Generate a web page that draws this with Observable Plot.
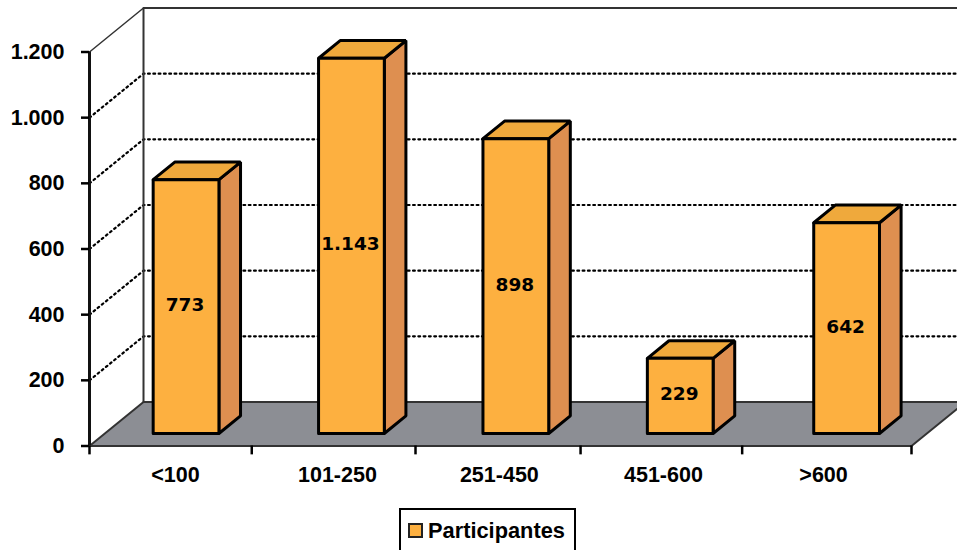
<!DOCTYPE html>
<html>
<head>
<meta charset="utf-8">
<script src="https://cdn.jsdelivr.net/npm/d3@7"></script>
<script src="https://cdn.jsdelivr.net/npm/@observablehq/plot@0.6"></script>
<style>
html,body{margin:0;padding:0;background:#fff;overflow:hidden;height:550px}
svg{display:block}
#legend{position:absolute;left:399px;top:508px;width:173px;height:60px;border:2px solid #000;box-sizing:content-box;font:bold 21.8px "Liberation Sans",Arial,sans-serif;color:#000}
#legend i{position:absolute;left:7px;top:13px;width:11px;height:11px;background:#FDB040;border:2px solid #222}
#legend span{position:absolute;left:27px;top:8px;white-space:nowrap}
</style>
</head>
<body>
<div id="chart"></div>
<div id="legend"><i></i><span>Participantes</span></div>
<script>
const categories = ["<100", "101-250", "251-450", "451-600", ">600"];
const participantes = [773, 1143, 898, 229, 642];
const yTicks = [0, 200, 400, 600, 800, 1000, 1200];
const slotTicks = [0, 0.987, 1.983, 2.987, 3.97, 5];
const categoryCentres = [0.523, 1.508, 2.493, 3.491, 4.465];
const barStarts = [0.294, 1.3, 2.3, 3.3, 4.312];
const gridValues = [200, 400, 600, 800, 1000];

// oblique projection: depth 0 = front of the box, 1 = back wall
const depthX = 0.3285, depthY = 134;
const P = (slot, value, depth) => ({x: slot + depth * depthX, y: value + depth * depthY});
const barWidth = 0.4, d0 = 0.284, d1 = 0.684;
const rightEnd = 5.28;

const poly = (id, pts) => pts.map(p => ({...p, id}));
const floor = poly("floor", [P(0,0,0), P(5,0,0), P(5,0,1), P(0,0,1), P(0,0,0)]);
const grid = gridValues.flatMap(v => poly("g"+v, [P(0,v,0), P(0,v,1), {x: rightEnd, y: v + depthY}]));
const front = [], top_ = [], side = [];
participantes.forEach((v, i) => {
  const a = barStarts[i], b = a + barWidth;
  front.push(...poly("f"+i, [P(a,0,d0),P(b,0,d0),P(b,v,d0),P(a,v,d0),P(a,0,d0)]));
  top_.push(...poly("t"+i, [P(a,v,d0),P(b,v,d0),P(b,v,d1),P(a,v,d1),P(a,v,d0)]));
  side.push(...poly("s"+i, [P(b,0,d0),P(b,0,d1),P(b,v,d1),P(b,v,d0),P(b,0,d0)]));
});
const fmt = v => d3.format(",")(v).replace(/,/g, ".");
const labels = participantes.map((v, i) => ({...P(barStarts[i] + barWidth/2, v/2, d0), t: fmt(v)}));
const axisFont = '"Liberation Sans", Arial, sans-serif';

const chart = Plot.plot({
  width: 957, height: 505,
  marginLeft: 89, marginRight: 46, marginTop: 51.5, marginBottom: 59.5,
  x: {domain: [0, 5], axis: null},
  y: {domain: [0, 1200], axis: null},
  marks: [
    Plot.line(floor, {x:"x", y:"y", z:"id", fill:"#8C8E94", stroke:"#333", strokeWidth:2}),
    Plot.line(grid, {x:"x", y:"y", z:"id", stroke:"#000", strokeWidth:2.2, strokeDasharray:"1.8 3.5"}),
    Plot.line(poly("wall",[P(0,0,1),P(0,1200,1),{x:rightEnd,y:1200+depthY}]), {x:"x", y:"y", stroke:"#333", strokeWidth:2}),
    Plot.line(poly("edge",[P(0,1200,0),P(0,1200,1)]), {x:"x", y:"y", stroke:"#333", strokeWidth:1.5}),
    Plot.line(side, {x:"x", y:"y", z:"id", fill:"#DE8F50", stroke:"#000", strokeWidth:3, strokeLinejoin:"miter"}),
    Plot.line(top_, {x:"x", y:"y", z:"id", fill:"#EFA93C", stroke:"#000", strokeWidth:3, strokeLinejoin:"miter"}),
    Plot.line(front, {x:"x", y:"y", z:"id", fill:"#FDB040", stroke:"#000", strokeWidth:3, strokeLinejoin:"miter"}),
    Plot.text(labels, {x:"x", y:"y", text:"t", dx:-1, dy:-1.5, fill:"#000", fontFamily:'"DejaVu Sans", Verdana, sans-serif', fontWeight:"bold", fontSize:18.5}),
    Plot.ruleX([0], {y1:0, y2:1200, stroke:"#111", strokeWidth:3}),
    Plot.ruleY([0], {x1:0, x2:5, stroke:"#333", strokeWidth:2}),
    Plot.ruleX(slotTicks, {y1:0, y2:-27, stroke:"#000", strokeWidth:2.5}),
    Plot.axisY({ticks:yTicks, tickSize:8, tickPadding:17, tickFormat:fmt, fontSize:21.5, fontFamily:axisFont, fontWeight:"bold", fill:"#000", stroke:"#000", strokeWidth:2.5, label:null}),
    Plot.text(categories, {x:(d,i)=>categoryCentres[i], y:0, dy:29, text:d=>d, fill:"#000", fontFamily:axisFont, fontWeight:"bold", fontSize:21.5})
  ]
});
document.getElementById("chart").append(chart);
</script>
</body>
</html>
